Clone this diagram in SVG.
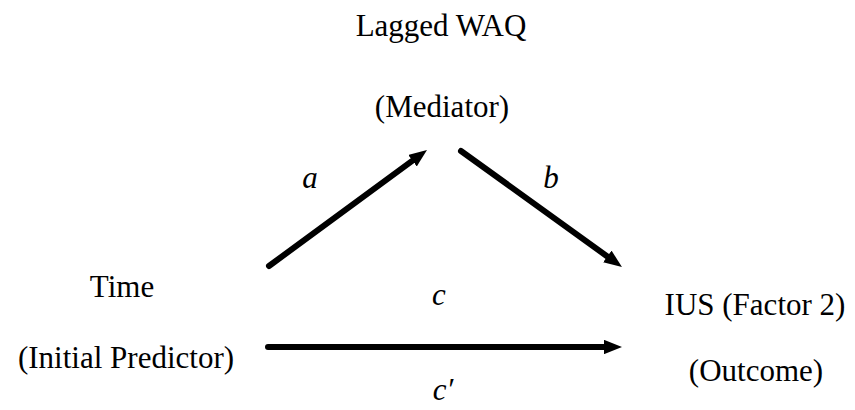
<svg xmlns="http://www.w3.org/2000/svg" width="855" height="410" viewBox="0 0 855 410">
<defs>
<style>
.t{font-family:"Liberation Serif","Times New Roman",serif;font-size:31px;fill:#000;text-anchor:middle}
.i{font-style:italic}
.e{stroke:#000;stroke-width:6;fill:none;stroke-linecap:round}
</style>
<marker id="ah" viewBox="0 0 10 8" refX="4" refY="4" markerWidth="3" markerHeight="2.4" markerUnits="strokeWidth" orient="auto">
<path d="M0,0 L10,4 L0,8 z" fill="#000"/>
</marker>
</defs>
<rect width="855" height="410" fill="#fff"/>
<g id="mediator">
<text class="t" x="441" y="36">Lagged WAQ</text>
<text class="t" x="442" y="117">(Mediator)</text>
</g>
<g id="predictor">
<text class="t" x="122" y="297">Time</text>
<text class="t" x="126" y="368">(Initial Predictor)</text>
</g>
<g id="outcome">
<text class="t" x="755" y="315">IUS (Factor 2)</text>
<text class="t" x="756" y="381">(Outcome)</text>
</g>
<g id="connectors">
<line class="e" x1="269" y1="266" x2="418.3" y2="156.4" marker-end="url(#ah)"/>
<line class="e" x1="461" y1="151" x2="613.2" y2="260.7" marker-end="url(#ah)"/>
<line class="e" x1="268" y1="347" x2="611.2" y2="347" marker-end="url(#ah)" stroke-linecap="butt"/>
<text class="t i" x="310" y="188">a</text>
<text class="t i" x="551" y="188">b</text>
<text class="t i" x="439" y="305">c</text>
<text class="t i" x="443" y="400">c′</text>
</g>
</svg>
